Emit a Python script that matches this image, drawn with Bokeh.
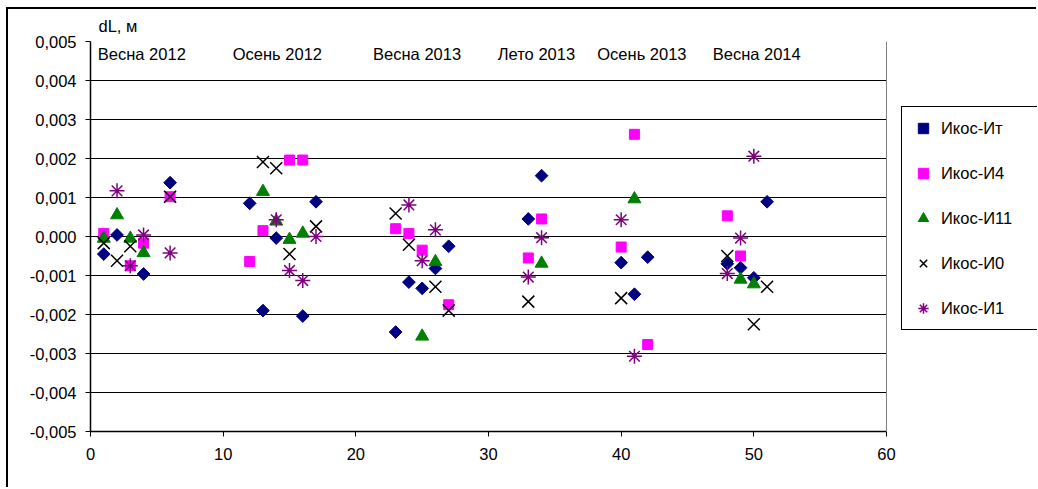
import math
from bokeh.plotting import figure
from bokeh.models import (Range1d, FixedTicker, CustomJSTickFormatter, Legend, LegendItem,
                          BoxAnnotation, Span)
from bokeh.core.properties import value
from bokeh.embed import file_html
from bokeh.resources import INLINE

FONT = "Liberation Sans"
FS = "16.5px"

# ---- data ----
it_x = [1, 2, 4, 6, 12, 13, 14, 16, 17, 23, 24, 25, 26, 27, 33, 34, 40, 41, 42, 48, 49, 50, 51]
it_y = [-0.00045, 0.00004, -0.00096, 0.00138, 0.00085, -0.0019, -0.00004, -0.00204, 0.00089,
        -0.00245, -0.00117, -0.00133, -0.00082, -0.00025, 0.00045, 0.00156, -0.00067, -0.00148,
        -0.00053, -0.0007, -0.0008, -0.00106, 0.00089]

i4_x = [1, 3, 4, 6, 12, 13, 15, 16, 23, 24, 25, 27, 33, 34, 40, 41, 42, 48, 49]
i4_y = [0.00008, -0.00075, -0.00017, 0.00102, -0.00064, 0.00015, 0.00196, 0.00196, 0.0002,
        0.00008, -0.00035, -0.00175, -0.00055, 0.00045, -0.00027, 0.00262, -0.00277, 0.00053, -0.0005]

i11_x = [1, 2, 3, 4, 13, 14, 15, 16, 25, 26, 34, 41, 49, 50]
i11_y = [-0.00005, 0.00055, -0.00005, -0.00042, 0.00115, 0.00039, -0.00008, 0.00008, -0.00256,
         -0.00065, -0.00069, 0.00096, -0.0011, -0.00122]

i0_x = [1, 2, 3, 6, 13, 14, 15, 17, 23, 24, 26, 27, 33, 40, 48, 50, 51]
i0_y = [-0.00017, -0.00062, -0.00025, 0.00102, 0.00191, 0.00175, -0.00045, 0.00026, 0.00059,
        -0.00021, -0.00129, -0.0019, -0.00167, -0.00158, -0.0005, -0.00225, -0.00129]

i1_x = [2, 3, 4, 6, 14, 15, 16, 17, 24, 25, 26, 33, 34, 40, 41, 48, 49, 50]
i1_y = [0.00117, -0.00075, 0.00004, -0.00042, 0.00043, -0.00087, -0.00113, 0.0, 0.00081,
        -0.00062, 0.00017, -0.00104, -0.00003, 0.00043, -0.00307, -0.00095, -0.00004, 0.00206]

season_labels = ["Весна 2012", "Осень 2012", "Весна 2013", "Лето 2013", "Осень 2013", "Весна 2014"]
season_x = [0.55, 10.72, 21.3, 30.7, 38.2, 46.9]
season_y = [0.00467] * 6

x_ticks = [0, 10, 20, 30, 40, 50, 60]
y_ticks = [-0.005, -0.004, -0.003, -0.002, -0.001, 0.0, 0.001, 0.002, 0.003, 0.004, 0.005]

X_MAX = 60
# frame extends past the axis end to host the legend box on the right
W, H = 1030, 480
LEFT, RIGHT, TOP, BOTTOM = 83, 0, 32, 57
AXIS_PX = 796  # pixel length of the 0..60 axis
x_end = X_MAX * (W - LEFT - RIGHT) / AXIS_PX

p = figure(width=W, height=H, output_backend="svg", toolbar_location=None,
           x_range=Range1d(0, x_end), y_range=Range1d(-0.005, 0.005),
           min_border_left=LEFT, min_border_right=RIGHT, min_border_top=TOP, min_border_bottom=BOTTOM)
p.styles = {"border": "1px solid black", "border-width": "1px 0px 0px 1px",
            "margin-left": "6px", "margin-top": "7px",
            "box-shadow": "inset 1px 1px 0px 0px black"}
p.background_fill_color = "white"
p.border_fill_color = "white"
p.border_fill_alpha = 0
p.outline_line_color = None

p.title.text = "dL, м"
p.title.align = "left"
p.title.offset = 8
p.title.standoff = 13
p.title.text_font = FONT
p.title.text_font_size = FS
p.title.text_font_style = "normal"
p.title.text_color = "black"

p.xgrid.visible = False
p.ygrid.ticker = FixedTicker(ticks=y_ticks)
p.ygrid.grid_line_color = "black"
p.ygrid.grid_line_width = 1

for ax in (p.xaxis[0], p.yaxis[0]):
    ax.axis_line_color = "black"
    ax.axis_line_width = 1.5
    ax.major_tick_line_color = "black"
    ax.major_tick_in = 0
    ax.major_tick_out = 5
    ax.minor_tick_line_color = None
    ax.major_label_text_font = FONT
    ax.major_label_text_font_size = FS
    ax.major_label_text_color = "black"

p.xaxis[0].ticker = FixedTicker(ticks=x_ticks)
p.xaxis[0].bounds = (0, X_MAX)
p.xaxis[0].major_label_standoff = 11
p.yaxis[0].ticker = FixedTicker(ticks=y_ticks)
p.yaxis[0].major_label_standoff = 9
p.yaxis[0].formatter = CustomJSTickFormatter(
    code="if (Math.abs(tick) < 1e-9) { return '0,000'; } return tick.toFixed(3).replace('.', ',');")

r_it = p.scatter(it_x, it_y, marker="square", angle=math.pi / 4, size=9,
                 fill_color="#000080", line_color="#000080")
r_i4 = p.scatter(i4_x, i4_y, marker="square", size=10,
                 fill_color="#FF00FF", line_color="#FF00FF")
r_i11 = p.scatter(i11_x, i11_y, marker="triangle", size=13,
                  fill_color="#008000", line_color="#008000")
r_i0 = p.scatter(i0_x, i0_y, marker="x", size=17, line_color="black", line_width=1.5)
r_i1 = p.scatter(i1_x, i1_y, marker="asterisk", size=15, line_color="#800080", line_width=1.5)

p.text(x=season_x, y=season_y, text=season_labels, text_font=value(FONT),
       text_font_size=FS, text_baseline="middle", text_align="left", text_color="black")

# blank out the area to the right of the plot area (outside the 0..60 axis)
p.add_layout(BoxAnnotation(left=X_MAX, fill_color="white", fill_alpha=1, line_color=None))
p.add_layout(Span(location=X_MAX, dimension="height", line_color="#808080", line_width=1))

legend = Legend(items=[
    LegendItem(label="Икос-Ит", renderers=[r_it]),
    LegendItem(label="Икос-И4", renderers=[r_i4]),
    LegendItem(label="Икос-И11", renderers=[r_i11]),
    LegendItem(label="Икос-И0", renderers=[r_i0]),
    LegendItem(label="Икос-И1", renderers=[r_i1]),
], location=(811, 101))
legend.label_text_font = FONT
legend.label_text_font_size = FS
legend.label_text_color = "black"
legend.border_line_color = "black"
legend.border_line_width = 1
legend.border_line_alpha = 1
legend.background_fill_color = "white"
legend.background_fill_alpha = 1
legend.padding = 8
legend.spacing = 19
legend.glyph_width = 26
legend.glyph_height = 26
legend.label_height = 26
legend.label_width = 88
legend.label_standoff = 5
legend.margin = 0
p.add_layout(legend)

open("out.html", "w").write(file_html(p, INLINE))
